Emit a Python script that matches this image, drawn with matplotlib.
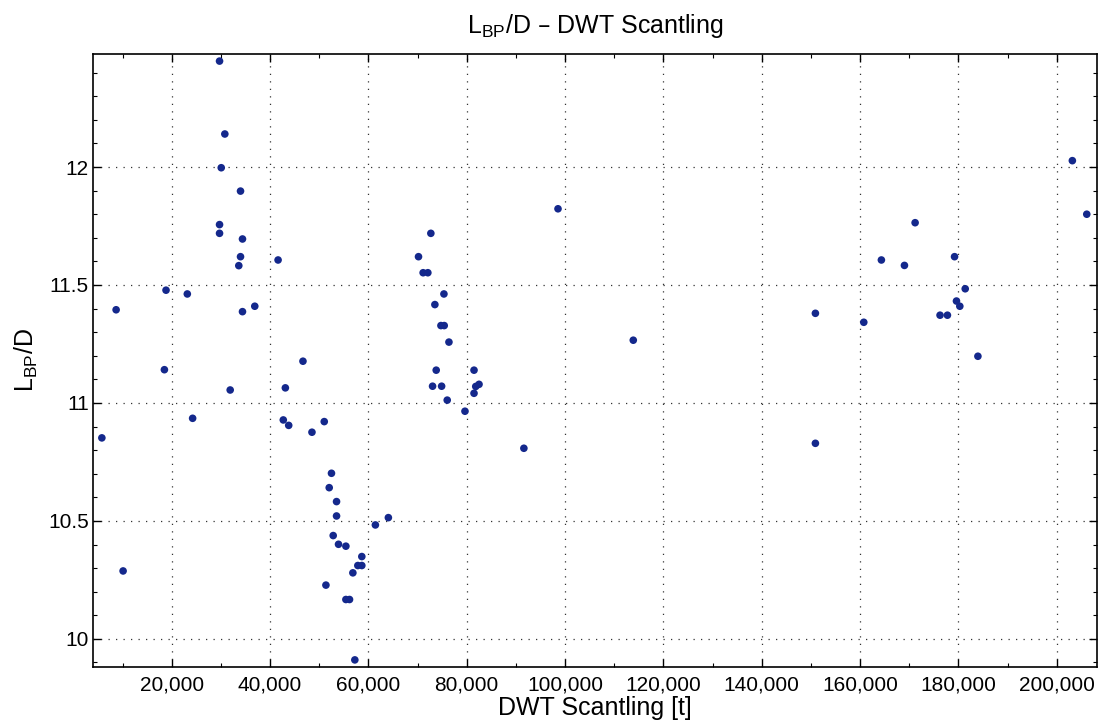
import matplotlib
matplotlib.use("Agg")
import matplotlib.pyplot as plt
from matplotlib.ticker import MultipleLocator, FuncFormatter

plt.rcParams['font.family'] = ['Liberation Sans', 'DejaVu Sans']
plt.rcParams['mathtext.default'] = 'regular'

# DWT scantling [t]
dwt = [
    5800, 8700, 10120, 18520, 18850, 23180, 24260,
    29734, 29734, 29734, 30080, 30810, 31900, 33650, 34000, 34000, 34400, 34400,
    36900, 41640, 42700, 43120, 43800, 46700, 48530, 51030, 51370,
    52040, 52500, 52850, 53530, 53530, 53930, 55430, 55430, 56170, 56850,
    57250, 57860, 58670, 58670, 61430, 64070,
    70200, 71140, 72100, 72710, 73060, 73530, 73800, 74760, 74900, 75370,
    75430, 76040, 76390, 79650, 81490, 81490, 81840, 82510, 91630, 98570,
    113880, 150920, 150920, 160760, 164340, 169030, 171200, 176270, 177770,
    179220, 179610, 180290, 181390, 183970, 203180, 206110,
]
# Lbp / D
lbp_d = [
    10.852, 11.395, 10.288, 11.141, 11.478, 11.462, 10.935,
    12.449, 11.756, 11.719, 11.997, 12.140, 11.055, 11.582, 11.898, 11.620, 11.695, 11.387,
    11.410, 11.606, 10.928, 11.064, 10.905, 11.177, 10.876, 10.921, 10.228,
    10.641, 10.702, 10.438, 10.582, 10.521, 10.401, 10.393, 10.167, 10.167, 10.280,
    9.911, 10.311, 10.311, 10.349, 10.483, 10.514,
    11.620, 11.552, 11.552, 11.719, 11.071, 11.417, 11.139, 11.328, 11.071, 11.462,
    11.328, 11.012, 11.258, 10.965, 11.139, 11.041, 11.070, 11.079, 10.808, 11.823,
    11.266, 11.380, 10.829, 11.342, 11.606, 11.583, 11.764, 11.372, 11.372,
    11.620, 11.432, 11.410, 11.484, 11.198, 12.027, 11.800,
]

fig = plt.figure(figsize=(11.02, 7.26), dpi=100)
ax = fig.add_axes([0.0844, 0.0813, 0.9111, 0.8443])

ax.scatter(dwt, lbp_d, s=30, color='#14288c', edgecolors='none', zorder=3)

ax.set_xlim(4000, 208200)
ax.set_ylim(9.881, 12.479)

ax.xaxis.set_major_locator(MultipleLocator(20000))
ax.xaxis.set_minor_locator(MultipleLocator(10000))
ax.yaxis.set_major_locator(MultipleLocator(0.5))
ax.yaxis.set_minor_locator(MultipleLocator(0.1))
ax.xaxis.set_major_formatter(FuncFormatter(lambda v, p: f'{int(v):,}'))
ax.yaxis.set_major_formatter(FuncFormatter(lambda v, p: f'{v:g}'))

ax.tick_params(which='both', direction='in', top=True, right=True, labelsize=15)
ax.tick_params(which='major', length=6, width=1.0)
ax.tick_params(which='minor', length=3, width=0.8)
ax.tick_params(axis='x', which='major', pad=6)
ax.tick_params(axis='y', which='major', pad=3)

ax.grid(True, which='major', linestyle=(0, (1, 5)), color='#333333', linewidth=0.9)
for s in ax.spines.values():
    s.set_linewidth(1.2)

ax.set_title(r'L$_{BP}$/D – DWT Scantling', fontsize=18, pad=15)
ax.set_xlabel('DWT Scantling [t]', fontsize=18, labelpad=1)
ax.set_ylabel(r'L$_{BP}$/D', fontsize=18, labelpad=6)

fig.savefig('out.png', dpi=100)
